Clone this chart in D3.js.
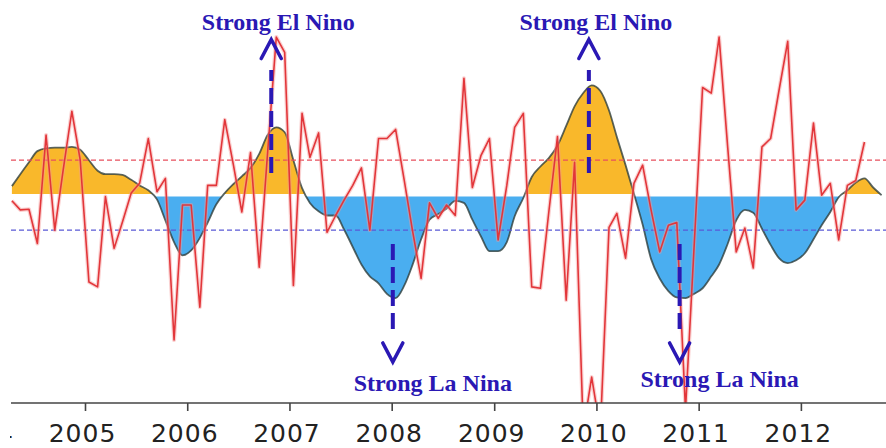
<!DOCTYPE html>
<html>
<head>
<meta charset="utf-8">
<script src="https://cdn.jsdelivr.net/npm/d3@7"></script>
<style>
  html, body { margin: 0; padding: 0; background: #fff; }
  svg { display: block; }
</style>
</head>
<body>
<svg id="chart" width="886" height="448"></svg>
<script>
// Monthly index values, first month April 2004
const firstYear = 2004;
const firstMonth = 3; // April (0-based)

const monthlyIndex = [
  -0.08, -0.21, -0.20, -0.69, 0.86, -0.50, 0.36, 1.20, 0.50, -1.24,
  -1.31, -0.02, -0.76, -0.38, 0.03, 0.17, 0.81, 0.05, 0.24, -2.07,
  -0.14, -0.14, -1.60, 0.14, 0.14, 1.08, 0.43, -0.24, 0.61, -1.03,
  0.61, 2.26, 2.04, -1.29, 1.17, 0.54, 0.89, -0.53, -0.29, -0.07,
  0.14, 0.39, -0.50, 0.81, 0.81, 0.94, 0.21, -0.50, -1.19, -0.11,
  -0.33, -0.14, -0.29, 1.67, 0.11, 0.57, 0.81, -0.64, 0.14, 0.97,
  1.17, -1.31, -1.33, -0.24, 0.84, -1.50, 0.47, -3.36, -2.60, -3.36,
  -0.46, -0.26, -0.90, 0.17, 0.43, -0.21, -0.81, -0.43, -0.39, -3.07,
  -0.79, 1.54, 1.46, 2.26, 0.67, -0.81, -0.47, -1.04, 0.69, 0.81,
  1.50, 2.20, -0.21, -0.07, 1.03, 0.00, 0.17, -0.64, 0.14, 0.21,
  0.76
];

// Running-mean index, same months
const smoothedIndex = [
  0.13, 0.30, 0.47, 0.63, 0.67, 0.68, 0.68, 0.69, 0.65, 0.50,
  0.35, 0.30, 0.30, 0.29, 0.22, 0.14, 0.07, -0.06, -0.36, -0.67,
  -0.86, -0.79, -0.61, -0.39, -0.13, 0.03, 0.16, 0.27, 0.39, 0.59,
  0.86, 0.97, 0.90, 0.50, 0.10, -0.11, -0.23, -0.29, -0.29, -0.49,
  -0.74, -0.99, -1.16, -1.26, -1.41, -1.47, -1.29, -1.00, -0.63, -0.35,
  -0.27, -0.19, -0.08, -0.11, -0.35, -0.59, -0.80, -0.80, -0.67, -0.30,
  -0.04, 0.26, 0.41, 0.53, 0.71, 0.99, 1.27, 1.46, 1.57, 1.49,
  1.21, 0.83, 0.43, 0.02, -0.42, -0.91, -1.19, -1.37, -1.46, -1.47,
  -1.41, -1.33, -1.16, -0.99, -0.69, -0.36, -0.21, -0.25, -0.48, -0.71,
  -0.90, -0.97, -0.93, -0.83, -0.63, -0.43, -0.24, -0.03, 0.07, 0.18,
  0.24, 0.11, 0.00
];

const thresholds = [0.5, -0.5];
const yearTicks = [2004, 2005, 2006, 2007, 2008, 2009, 2010, 2011, 2012];

const eventLabels = ["Strong El Nino", "Strong La Nina", "Strong El Nino", "Strong La Nina"];
const eventDates = [[2006, 9, 28], [2008, 0, 5], [2009, 11, 5], [2010, 9, 25]];
const eventKinds = ["up", "down", "up", "down"];

// ---- layout ----
const W = 886, H = 448;
const plot = { left: 11, right: 886, top: 0, bottom: 403 };

const monthDate = i => new Date(firstYear, firstMonth + i, 15);
const monthly = monthlyIndex.map((v, i) => ({ date: monthDate(i), v }));
const smoothed = smoothedIndex.map((v, i) => ({ date: monthDate(i), v }));

const x = d3.scaleTime()
  .domain([new Date(2005, 0, 1), new Date(2013, 0, 1)])
  .range([85, 85 + 8 * 102.3]);

const y = d3.scaleLinear()
  .domain([-2.97, 2.79])
  .range([plot.bottom, plot.top]);

const svg = d3.select("#chart");
const defs = svg.append("defs");

defs.append("clipPath").attr("id", "plot-clip")
  .append("rect")
  .attr("x", plot.left).attr("y", plot.top)
  .attr("width", plot.right - plot.left).attr("height", plot.bottom - plot.top);

const y0 = y(0);
defs.append("clipPath").attr("id", "above-zero")
  .append("rect")
  .attr("x", plot.left).attr("y", plot.top)
  .attr("width", plot.right - plot.left).attr("height", y0 - 1.3 - plot.top);

defs.append("clipPath").attr("id", "below-zero")
  .append("rect")
  .attr("x", plot.left).attr("y", y0 + 1.3)
  .attr("width", plot.right - plot.left).attr("height", plot.bottom - y0 - 1.3);

// axis area: the year labels are cut at the chart's left edge
defs.append("clipPath").attr("id", "axis-clip")
  .append("rect")
  .attr("x", 10).attr("y", plot.bottom - 5)
  .attr("width", W - 10).attr("height", H - plot.bottom + 5);

const g = svg.append("g").attr("clip-path", "url(#plot-clip)");

// smoothed index as a filled area, warm above zero and cool below
const area = d3.area()
  .x(d => x(d.date))
  .y0(y0)
  .y1(d => y(d.v))
  .curve(d3.curveMonotoneX);

g.append("g").attr("clip-path", "url(#above-zero)")
  .append("path").datum(smoothed)
  .attr("d", area).attr("fill", "#f9b82b");

g.append("g").attr("clip-path", "url(#below-zero)")
  .append("path").datum(smoothed)
  .attr("d", area).attr("fill", "#4aaef0");

const smoothLine = d3.line()
  .x(d => x(d.date))
  .y(d => y(d.v))
  .curve(d3.curveMonotoneX);

g.append("path").datum(smoothed)
  .attr("d", smoothLine)
  .attr("fill", "none")
  .attr("stroke", "#2f3f3c")
  .attr("stroke-opacity", 0.8)
  .attr("stroke-width", 1.8);

// +/- 0.5 threshold lines
g.selectAll("line.threshold").data(thresholds).enter()
  .append("line").attr("class", "threshold")
  .attr("x1", plot.left).attr("x2", plot.right)
  .attr("y1", d => y(d)).attr("y2", d => y(d))
  .attr("stroke", d => d > 0 ? "#e8505e" : "#5a5ad6")
  .attr("stroke-width", 1.3)
  .attr("stroke-dasharray", "5,3");

// monthly index
const rawLine = d3.line()
  .x(d => x(d.date))
  .y(d => y(d.v));

g.append("path").datum(monthly)
  .attr("d", rawLine)
  .attr("fill", "none")
  .attr("stroke", "#f59a9a")
  .attr("stroke-opacity", 0.45)
  .attr("stroke-width", 4)
  .attr("stroke-linejoin", "round");

g.append("path").datum(monthly)
  .attr("d", rawLine)
  .attr("fill", "none")
  .attr("stroke", "#e2363a")
  .attr("stroke-width", 1.6)
  .attr("stroke-linejoin", "round");

// time axis
const axisG = svg.append("g").attr("clip-path", "url(#axis-clip)")
  .append("g")
  .attr("transform", `translate(0,${plot.bottom})`);

axisG.append("line")
  .attr("x1", plot.left).attr("x2", plot.right)
  .attr("y1", 0).attr("y2", 0)
  .attr("stroke", "#444").attr("stroke-width", 1.6);

const axis = d3.axisBottom(x)
  .tickValues(yearTicks.map(yr => new Date(yr, 0, 1)))
  .tickFormat(d3.timeFormat("%Y"))
  .tickSize(8)
  .tickSizeOuter(0);

const ax = axisG.append("g").call(axis);
ax.select(".domain").remove();
ax.selectAll(".tick line").attr("stroke", "#444").attr("stroke-width", 1.6);
ax.selectAll(".tick text")
  .attr("y", 39).attr("dy", 0).attr("dx", -3)
  .attr("fill", "#222")
  .style("font-family", "'DejaVu Sans', Verdana, sans-serif")
  .style("font-size", "25px")
  .style("letter-spacing", "1px");

// event annotations
const ink = "#2a18b4";
const ann = svg.append("g");
eventLabels.forEach((label, k) => {
  const [yy, mm, dd] = eventDates[k];
  const ax0 = x(new Date(yy, mm, dd));
  const up = eventKinds[k] === "up";
  const shaft = up ? [173, 70] : [244, 334];
  const tipY = up ? 39.5 : 362;
  const armY = up ? 58.5 : 343;

  ann.append("line")
    .attr("x1", ax0).attr("x2", ax0)
    .attr("y1", shaft[0]).attr("y2", shaft[1])
    .attr("stroke", ink).attr("stroke-width", 4)
    .attr("stroke-dasharray", "16,7");

  ann.append("path")
    .attr("d", `M${ax0 - 10},${armY} L${ax0},${tipY} L${ax0 + 10},${armY}`)
    .attr("fill", "none")
    .attr("stroke", ink).attr("stroke-width", 3.6)
    .attr("stroke-linecap", "round")
    .attr("stroke-linejoin", "miter");

  ann.append("text")
    .attr("x", up ? ax0 + 7 : ax0 + 40)
    .attr("y", up ? 30 : (k === 1 ? 391 : 387))
    .attr("text-anchor", "middle")
    .attr("fill", ink)
    .style("font-family", "'Liberation Serif', 'Times New Roman', serif")
    .style("font-weight", "bold")
    .style("font-size", "24px")
    .text(label);
});
</script>
</body>
</html>
